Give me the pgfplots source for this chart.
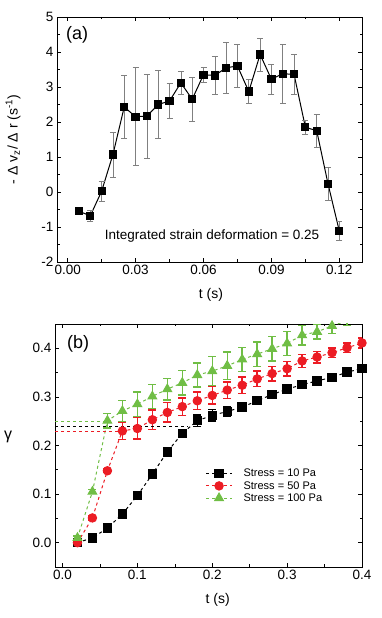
\documentclass[border=0pt]{standalone}
\usepackage{fontspec}
\setmainfont{Liberation Sans}
\usepackage{pgfplots}
\pgfplotsset{compat=1.18}
\usepackage{pgfplotstable}

\definecolor{sred}{RGB}{236,28,36}
\definecolor{sgreen}{RGB}{112,190,69}

% panel (a): t, -dvz/dr, error
\pgfplotstableread{
t      v      e
0.005 -0.55  0.10
0.010 -0.68  0.15
0.015  0.02  0.28
0.020  1.07  0.64
0.025  2.43  0.91
0.030  2.15  1.40
0.035  2.17  1.20
0.040  2.50  0.97
0.045  2.60  0.50
0.050  3.12  0.33
0.055  2.65  0.63
0.060  3.35  0.22
0.065  3.33  0.55
0.070  3.55  0.72
0.075  3.60  0.61
0.080  2.87  0.35
0.085  3.93  0.47
0.090  3.22  0.44
0.095  3.38  0.85
0.100  3.36  0.57
0.105  1.85  0.21
0.110  1.75  0.47
0.115  0.23  0.48
0.120 -1.12  0.27
}\shear

% panel (b)
\pgfplotstableread{
t     g      e
0.02  0.000  0.003
0.04  0.010  0.003
0.06  0.030  0.003
0.08  0.059  0.003
0.10  0.097  0.003
0.12  0.141  0.003
0.14  0.187  0.003
0.16  0.225  0.004
0.18  0.251  0.012
0.20  0.262  0.012
0.22  0.270  0.010
0.24  0.279  0.008
0.26  0.292  0.006
0.28  0.305  0.005
0.30  0.316  0.005
0.32  0.325  0.004
0.34  0.333  0.004
0.36  0.340  0.004
0.38  0.351  0.004
0.40  0.358  0.004
}\sten

\pgfplotstableread{
t     g      e
0.02  0.000  0.004
0.04  0.051  0.004
0.06  0.148  0.004
0.08  0.230  0.018
0.10  0.235  0.022
0.12  0.253  0.020
0.14  0.268  0.020
0.16  0.280  0.018
0.18  0.292  0.018
0.20  0.303  0.018
0.22  0.314  0.017
0.24  0.324  0.017
0.26  0.337  0.016
0.28  0.348  0.015
0.30  0.358  0.015
0.32  0.374  0.013
0.34  0.382  0.012
0.36  0.391  0.010
0.38  0.401  0.010
0.40  0.411  0.010
}\stfifty

\pgfplotstableread{
t     g      e
0.02  0.010  0.004
0.04  0.105  0.004
0.06  0.251  0.015
0.08  0.271  0.022
0.10  0.285  0.025
0.12  0.301  0.025
0.14  0.316  0.022
0.16  0.329  0.025
0.18  0.345  0.025
0.20  0.353  0.030
0.22  0.364  0.028
0.24  0.377  0.025
0.26  0.388  0.025
0.28  0.399  0.025
0.30  0.410  0.025
0.32  0.427  0.020
0.34  0.434  0.015
0.36  0.446  0.015
0.38  0.457  0.010
0.40  0.466  0.010
}\sthundred

\pgfplotsset{
  panel/.style={
    scale only axis,
    anchor=south west,
    tick align=inside,
    axis line style={line width=0.8pt},
    major tick length=4pt,
    minor tick length=2.5pt,
    tick style={black, line width=0.6pt},
    ticklabel style={font=\fontsize{13.5}{15}\selectfont},
    label style={font=\fontsize{14}{16}\selectfont},
    /pgf/number format/assume math mode=true,
  },
  ebar/.style={error bars/.cd, y dir=both, y explicit,
    error bar style={#1, line width=1.4pt, solid},
    error mark options={rotate=90, #1, mark size=4pt, line width=1.4pt}},
}

\begin{document}
\begin{tikzpicture}[x=1pt,y=1pt]
\path[use as bounding box] (0,0) rectangle (382,618);

\begin{axis}[panel,
  at={(57pt,356pt)}, width=305pt, height=245pt,
  xmin=-0.0047, xmax=0.13, ymin=-2, ymax=5,
  xtick={0,0.03,0.06,0.09,0.12}, minor x tick num=1,
  ytick={-2,-1,0,1,2,3,4,5}, minor y tick num=1,
  xticklabel style={/pgf/number format/.cd, fixed, fixed zerofill, precision=2},
  xlabel={t (s)}, ylabel={- Δ v\textsubscript{z}/ Δ r (s\textsuperscript{-1})},
  xlabel style={at={(axis description cs:0.505,-0.135)}, anchor=center},
  ylabel style={at={(axis description cs:-0.144,0.5)}, anchor=center},
  clip=false,
]
\addplot[black, line width=1pt, mark=square*, mark size=3.6pt,
  error bars/.cd, y dir=both, y explicit,
  error bar style={gray, line width=0.6pt},
  error mark options={rotate=90, gray, mark size=3pt, line width=0.6pt}]
  table[x=t, y=v, y error=e] {\shear};
\node[font=\fontsize{18}{20}\selectfont] at (rel axis cs:0.066,0.927) {(a)};
\node[font=\fontsize{13.5}{15}\selectfont] at (axis cs:0.0638,-1.26) {Integrated strain deformation = 0.25};
\end{axis}

\begin{axis}[panel,
  at={(55pt,51pt)}, width=307pt, height=243pt,
  xmin=-0.01, xmax=0.4, ymin=-0.05, ymax=0.45,
  xtick={0,0.1,0.2,0.3,0.4}, minor x tick num=1,
  ytick={0,0.1,0.2,0.3,0.4}, minor y tick num=1,
  xticklabel style={/pgf/number format/.cd, fixed, fixed zerofill, precision=1},
  yticklabel style={/pgf/number format/.cd, fixed, fixed zerofill, precision=1},
  xlabel={t (s)}, ylabel={γ},
  xlabel style={at={(axis description cs:0.53,-0.136)}, anchor=center},
  ylabel style={at={(axis description cs:-0.153,0.535)}, anchor=center, rotate=-90,
    font=\fontsize{16}{18}\selectfont},
  legend style={draw=none, fill=none, at={(rel axis cs:0.48,0.42)}, anchor=north west,
    font=\fontsize{11}{12}\selectfont, row sep=-1pt,
    /tikz/every odd column/.append style={column sep=9pt}},
  legend cell align=left,
  legend image code/.code={\draw[mark repeat=2, mark phase=2, #1]
    plot coordinates {(0pt,0pt) (13pt,0pt) (26pt,0pt)};},
]
\addplot[black, dashed, line width=1pt, mark=square*, mark size=4.2pt,
  mark options={solid}, ebar=black]
  table[x=t, y=g, y error=e] {\sten};
\addlegendentry{Stress = 10 Pa}
\addplot[sred, dashed, line width=1pt, mark=*, mark size=4.2pt,
  mark options={solid}, ebar=sred]
  table[x=t, y=g, y error=e] {\stfifty};
\addlegendentry{Stress = 50 Pa}
\addplot[sgreen, dashed, line width=1pt, mark=triangle*, mark size=5pt,
  mark options={solid}, ebar=sgreen]
  table[x=t, y=g, y error=e] {\sthundred};
\addlegendentry{Stress = 100 Pa}
\addplot[black, dashed, line width=0.8pt, forget plot] coordinates {(-0.01,0.24) (0.167,0.24)};
\addplot[sred, dashed, line width=0.8pt, forget plot] coordinates {(-0.01,0.23) (0.08,0.23)};
\addplot[sgreen, dashed, line width=0.8pt, forget plot] coordinates {(-0.01,0.25) (0.06,0.25)};
\node[font=\fontsize{18}{20}\selectfont] at (rel axis cs:0.075,0.918) {(b)};
\end{axis}
\end{tikzpicture}
\end{document}
